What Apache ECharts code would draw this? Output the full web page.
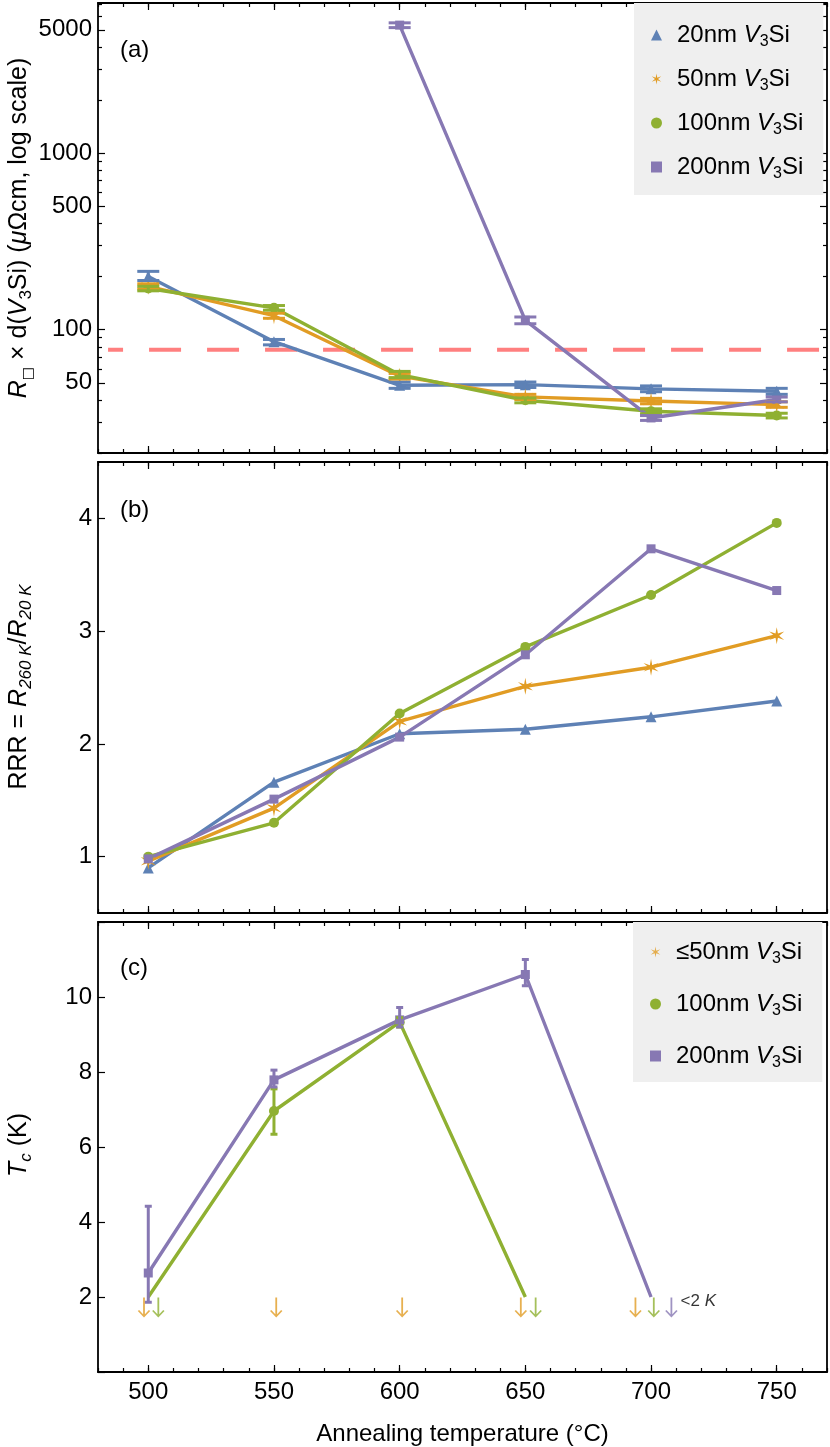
<!DOCTYPE html>
<html>
<head>
<meta charset="utf-8">
<script src="https://cdn.jsdelivr.net/npm/echarts@6/dist/echarts.min.js"></script>
<style>
  html, body { margin: 0; padding: 0; background: #fff; }
  #chart { width: 830px; height: 1447px; }
</style>
</head>
<body>
<div id="chart"></div>
<script>
// ---------- data ----------
const temps = [500, 550, 600, 650, 700, 750];
const xMajor = [500, 550, 600, 650, 700, 750];

// (a) R_sq x d(V3Si), µΩcm
const rho20 = [200, 85.5, 48.4, 48.8, 46.2, 44.8];
const rho50 = [176, 120, 54.5, 41.6, 39.4, 37.6];
const rho100 = [171, 133, 55.6, 39.8, 34.5, 32.6];
const rho200 = [null, null, 5320, 113, 31.6, 40.2];
const rho20Err = [[190, 214], [82, 88], [46.5, 50.5], [47, 50.5], [44.5, 48], [43, 46.5]];
const rho50Err = [[170, 182], [116, 124], [52.5, 56.5], [40.2, 43], [38, 40.8], [36.3, 39]];
const rho100Err = [[166, 176], [129, 137], [53.5, 58], [38.5, 41], [33.4, 35.6], [31.6, 33.6]];
const rho200Err = [null, null, [5150, 5480], [108, 118], [30.6, 32.6], [39, 41.5]];
const rhoThreshold = 77;
const rhoLabels = [50, 100, 500, 1000, 5000];
const rhoMinor = [20, 30, 40, 60, 70, 80, 90, 200, 300, 400, 600, 700, 800, 900, 2000, 3000, 4000, 6000, 7000];

// (b) RRR
const rrr20 = [0.90, 1.66, 2.09, 2.13, 2.24, 2.38];
const rrr50 = [0.96, 1.43, 2.20, 2.51, 2.68, 2.96];
const rrr100 = [1.00, 1.30, 2.27, 2.86, 3.32, 3.96];
const rrr200 = [0.98, 1.51, 2.06, 2.79, 3.73, 3.36];
const rrrTicks = [1, 2, 3, 4];

// (c) Tc (K); 2 = line drops below the 2 K floor (no marker)
const tcTemps100 = [500, 550, 600, 650];
const tc100 = [2, 6.96, 9.33, 2];
const tc100Err = [null, [6.34, 7.55], [9.2, 9.45], null];
const tcTemps200 = [500, 550, 600, 650, 700];
const tc200 = [2.64, 7.79, 9.39, 10.6, 2];
const tc200Err = [[1.86, 4.42], [7.6, 8.05], [9.2, 9.72], [10.3, 11.0], null];
const tcFloor = 2;
// "<2 K" arrows (slightly offset around each temperature)
const below50 = [498.3, 550.9, 601, 648.2, 693.8];
const below100 = [504, 654.1, 701.1];
const below200 = [708.1];
const arrowLevel = 1.72;

// ---------- style ----------
const FONT = 'Liberation Sans, Arial, sans-serif';
const C20 = '#5E81B5', C50 = '#E19C24', C100 = '#8FB032', C200 = '#8778B3';

function starPath(n, rOut, rIn) {
  let d = '';
  for (let k = 0; k < 2 * n; k++) {
    const r = k % 2 ? rIn : rOut;
    const a = -Math.PI / 2 + k * Math.PI / n;
    d += (k ? 'L' : 'M') + (r * Math.cos(a)).toFixed(2) + ',' + (r * Math.sin(a)).toFixed(2);
  }
  return 'path://' + d + 'Z';
}
const STAR = starPath(6, 10, 2.8);
const ARROW = 'path://M-0.9,-10L0.9,-10L0.9,6.8L4.9,2.4L6.2,3.6L0,10L-6.2,3.6L-4.9,2.4L-0.9,6.8Z';

const rich = {
  i: { fontStyle: 'italic', fontSize: 24, fontFamily: FONT, lineHeight: 30 },
  s: { fontSize: 16, fontFamily: FONT, verticalAlign: 'bottom', lineHeight: 16 },
  si: { fontSize: 16, fontStyle: 'italic', fontFamily: FONT, verticalAlign: 'bottom', lineHeight: 16 }
};

const grids = [
  { left: 98, right: 3, top: 3, height: 450 },
  { left: 98, right: 3, top: 462, height: 451 },
  { left: 98, right: 3, top: 922, height: 450 }
].map(g => Object.assign(g, { outerBoundsMode: 'none' }));

// ---------- axes ----------
const xAxes = [];
function xAx(g, pos, major) {
  const labelled = major && pos === 'bottom' && g === 2;
  return {
    type: 'value', gridIndex: g, position: pos, min: 480, max: 770,
    interval: major ? undefined : 10,
    axisLine: { show: major, onZero: false, lineStyle: { color: '#000', width: 1.8 } },
    axisTick: {
      show: true, inside: true, length: major ? 7 : 4,
      lineStyle: { color: '#000', width: 1.2 },
      customValues: major ? xMajor : undefined
    },
    axisLabel: {
      show: labelled, customValues: xMajor, fontSize: 24, color: '#000',
      fontFamily: FONT, margin: 8
    },
    splitLine: { show: false },
    name: labelled ? 'Annealing temperature (°C)' : '',
    nameLocation: 'middle', nameGap: 50,
    nameTextStyle: { fontSize: 24, color: '#000', fontFamily: FONT }
  };
}
for (let g = 0; g < 3; g++) {
  xAxes.push(xAx(g, 'bottom', true), xAx(g, 'bottom', false), xAx(g, 'top', true), xAx(g, 'top', false));
}
const xi = g => g * 4;

const yAxes = [];
const yMain = [];
const yBase = {
  splitLine: { show: false },
  axisLine: { show: true, onZero: false, lineStyle: { color: '#000', width: 1.8 } },
  axisLabel: { fontSize: 24, color: '#000', fontFamily: FONT, margin: 6 }
};
// (a) log scale
yMain.push(yAxes.length);
yAxes.push(Object.assign({}, yBase, {
  type: 'log', gridIndex: 0, position: 'left', min: 20, max: 7100,
  axisTick: { inside: true, length: 7, customValues: rhoLabels, lineStyle: { color: '#000', width: 1.2 } },
  axisLabel: Object.assign({}, yBase.axisLabel, { customValues: rhoLabels, formatter: v => String(Math.round(v)) })
}));
['left', 'right'].forEach(pos => {
  yAxes.push({
    type: 'log', gridIndex: 0, position: pos, min: 20, max: 7100,
    axisLine: { show: pos === 'right', onZero: false, lineStyle: { color: '#000', width: 1.8 } },
    axisLabel: { show: false }, splitLine: { show: false },
    axisTick: { inside: true, length: 4, customValues: rhoMinor, lineStyle: { color: '#000', width: 1.2 } }
  });
});
yAxes.push({
  type: 'log', gridIndex: 0, position: 'right', min: 20, max: 7100,
  axisLine: { show: false }, axisLabel: { show: false }, splitLine: { show: false },
  axisTick: { inside: true, length: 7, customValues: rhoLabels, lineStyle: { color: '#000', width: 1.2 } }
});
// (b)
yMain.push(yAxes.length);
yAxes.push(Object.assign({}, yBase, {
  type: 'value', gridIndex: 1, position: 'left', min: 0.5, max: 4.5,
  axisTick: { inside: true, length: 7, customValues: rrrTicks, lineStyle: { color: '#000', width: 1.2 } },
  axisLabel: Object.assign({}, yBase.axisLabel, { customValues: rrrTicks })
}));
yAxes.push({
  type: 'value', gridIndex: 1, position: 'right', min: 0.5, max: 4.5,
  axisLine: { show: true, onZero: false, lineStyle: { color: '#000', width: 1.8 } },
  axisTick: { show: false }, axisLabel: { show: false }, splitLine: { show: false }
});
// (c)
yMain.push(yAxes.length);
yAxes.push(Object.assign({}, yBase, {
  type: 'value', gridIndex: 2, position: 'left', min: 0, max: 12, interval: 2,
  axisTick: { inside: true, length: 7, lineStyle: { color: '#000', width: 1.2 } },
  axisLabel: Object.assign({}, yBase.axisLabel, { formatter: v => (v === 0 || v === 12) ? '' : String(v) })
}));
yAxes.push({
  type: 'value', gridIndex: 2, position: 'right', min: 0, max: 12, interval: 2,
  axisLine: { show: true, onZero: false, lineStyle: { color: '#000', width: 1.8 } },
  axisTick: { show: false }, axisLabel: { show: false }, splitLine: { show: false }
});

// ---------- series helpers ----------
const pairs = (xs, ys) => xs.map((x, i) => [x, ys[i]]).filter(p => p[1] != null);

function lineSeries(name, g, color, symbol, size, data) {
  return {
    type: 'line', name, xAxisIndex: xi(g), yAxisIndex: yMain[g], data,
    symbol, symbolSize: size, showSymbol: true,
    lineStyle: { color, width: 3.4 }, itemStyle: { color },
    z: 3, silent: true
  };
}

function errSeries(g, color, xs, errs, capW, lw) {
  const data = xs.map((x, i) => errs[i] ? [x, errs[i][0], errs[i][1]] : null).filter(Boolean);
  return {
    type: 'custom', name: 'err', xAxisIndex: xi(g), yAxisIndex: yMain[g], data, z: 4, silent: true,
    encode: { x: 0, y: [1, 2] },
    renderItem: (params, api) => {
      const lo = api.coord([api.value(0), api.value(1)]);
      const hi = api.coord([api.value(0), api.value(2)]);
      const st = { stroke: color, lineWidth: lw };
      return {
        type: 'group', children: [
          { type: 'line', shape: { x1: lo[0], y1: lo[1], x2: hi[0], y2: hi[1] }, style: st },
          { type: 'line', shape: { x1: lo[0] - capW / 2, y1: lo[1], x2: lo[0] + capW / 2, y2: lo[1] }, style: st },
          { type: 'line', shape: { x1: hi[0] - capW / 2, y1: hi[1], x2: hi[0] + capW / 2, y2: hi[1] }, style: st }
        ]
      };
    }
  };
}

function arrowSeries(name, color, xs) {
  return {
    type: 'scatter', name, xAxisIndex: xi(2), yAxisIndex: yMain[2],
    data: xs.map(x => [x, arrowLevel]),
    symbol: ARROW, symbolSize: [12.4, 20], itemStyle: { color }, z: 5, silent: true
  };
}

const tcData = (xs, ys) => xs.map((x, i) => ys[i] === tcFloor
  ? { value: [x, ys[i]], symbol: 'none' }
  : { value: [x, ys[i]] });

const series = [
  // (a)
  lineSeries('20nm V3Si', 0, C20, 'triangle', 11, pairs(temps, rho20)),
  lineSeries('50nm V3Si', 0, C50, STAR, [15, 17], pairs(temps, rho50)),
  lineSeries('100nm V3Si', 0, C100, 'circle', 10, pairs(temps, rho100)),
  lineSeries('200nm V3Si', 0, C200, 'rect', 9, pairs(temps, rho200)),
  errSeries(0, C20, temps, rho20Err, 22, 3),
  errSeries(0, C50, temps, rho50Err, 22, 3),
  errSeries(0, C100, temps, rho100Err, 22, 3),
  errSeries(0, C200, temps, rho200Err, 22, 3),
  {
    type: 'line', name: 'threshold', xAxisIndex: xi(0), yAxisIndex: yMain[0],
    data: [[484, rhoThreshold], [770, rhoThreshold]], symbol: 'none', silent: true, z: 2,
    lineStyle: { color: 'rgba(255,0,0,0.5)', width: 4, type: [32, 26], dashOffset: 17 }
  },
  // (b)
  lineSeries('20nm V3Si', 1, C20, 'triangle', 11, pairs(temps, rrr20)),
  lineSeries('50nm V3Si', 1, C50, STAR, [15, 17], pairs(temps, rrr50)),
  lineSeries('100nm V3Si', 1, C100, 'circle', 10, pairs(temps, rrr100)),
  lineSeries('200nm V3Si', 1, C200, 'rect', 9, pairs(temps, rrr200)),
  // (c)
  lineSeries('100nm V3Si', 2, C100, 'circle', 10, tcData(tcTemps100, tc100)),
  lineSeries('200nm V3Si', 2, C200, 'rect', 9, tcData(tcTemps200, tc200)),
  errSeries(2, C100, tcTemps100, tc100Err, 7, 3),
  errSeries(2, C200, tcTemps200, tc200Err, 7, 3),
  arrowSeries('≤50nm V3Si', C50, below50),
  arrowSeries('100nm V3Si', C100, below100),
  Object.assign(arrowSeries('200nm V3Si', C200, below200), {
    label: {
      show: true, position: 'right', distance: 3, offset: [0, -6],
      formatter: '<2 {k|K}', fontSize: 17, color: '#000', fontFamily: FONT,
      rich: { k: { fontStyle: 'italic', fontSize: 17, fontFamily: FONT } }
    }
  })
];

const legendText = {
  fontSize: 24, color: '#000', fontFamily: FONT, lineHeight: 30,
  padding: [0, 0, 0, 10], rich
};
const fmt = name => name.replace(' V3Si', ' {i|V}{s|3}Si');

const legends = [
  {
    left: 634, top: 3, width: 193, orient: 'vertical', selectedMode: false,
    backgroundColor: '#EFEFEF', padding: [17, 20, 13, 17], itemGap: 14,
    itemWidth: 11, itemHeight: 11, textStyle: legendText, formatter: fmt,
    data: [
      { name: '20nm V3Si', icon: 'triangle' },
      { name: '50nm V3Si', icon: STAR },
      { name: '100nm V3Si', icon: 'circle' },
      { name: '200nm V3Si', icon: 'rect' }
    ]
  },
  {
    left: 633, top: 922, orient: 'vertical', selectedMode: false,
    backgroundColor: '#EFEFEF', padding: [15, 20, 11, 17], itemGap: 22,
    itemWidth: 11, itemHeight: 11, textStyle: legendText, formatter: fmt,
    data: [
      { name: '≤50nm V3Si', icon: STAR },
      { name: '100nm V3Si', icon: 'circle' },
      { name: '200nm V3Si', icon: 'rect' }
    ]
  }
];

const titleRich = {
  i: { fontStyle: 'italic', fontSize: 25, fontFamily: FONT, lineHeight: 32 },
  sb: { fontSize: 14, fontFamily: 'DejaVu Sans', verticalAlign: 'bottom', lineHeight: 14 },
  s: { fontSize: 17, fontFamily: FONT, verticalAlign: 'bottom', lineHeight: 16 },
  si: { fontSize: 17, fontStyle: 'italic', fontFamily: FONT, verticalAlign: 'bottom', lineHeight: 16 }
};
function vTitle(text, y) {
  return {
    type: 'text', x: 19, y, rotation: Math.PI / 2, silent: true,
    style: {
      text, align: 'center', verticalAlign: 'middle', fill: '#000',
      fontSize: 25, fontFamily: FONT, lineHeight: 32, rich: titleRich
    }
  };
}
function panelLabel(text, y) {
  return {
    type: 'text', x: 120, y, silent: true,
    style: { text, verticalAlign: 'middle', fill: '#000', fontSize: 24, fontFamily: FONT }
  };
}

const chart = echarts.init(document.getElementById('chart'), null, { renderer: 'canvas' });
chart.setOption({
  animation: false,
  backgroundColor: '#fff',
  textStyle: { fontFamily: FONT },
  grid: grids,
  xAxis: xAxes,
  yAxis: yAxes,
  legend: legends,
  series,
  graphic: [
    vTitle('{i|R}{sb|□} × d({i|V}{s|3}Si) ({i|μ}Ωcm, log scale)', 228),
    vTitle('RRR = {i|R}{si|260 K}/{i|R}{si|20 K}', 687),
    vTitle('{i|T}{si|c} (K)', 1145),
    panelLabel('(a)', 50),
    panelLabel('(b)', 510),
    panelLabel('(c)', 968)
  ]
});
</script>
</body>
</html>
